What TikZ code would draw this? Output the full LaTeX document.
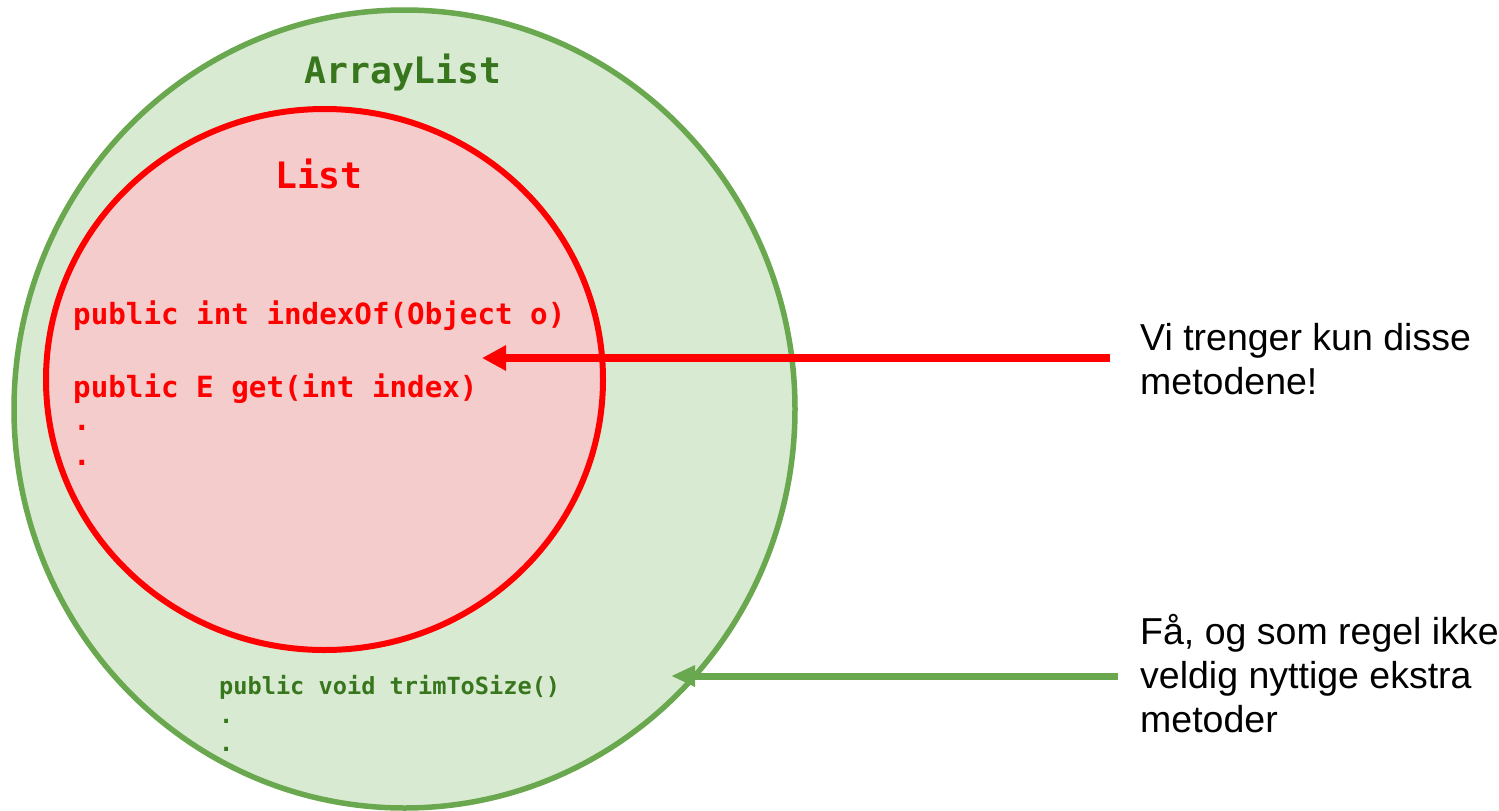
\documentclass[tikz,border=0pt]{standalone}
\usepackage{fontspec}
\setmainfont{Liberation Sans}
\newfontfamily\codefont{DejaVu Sans Mono}
\usetikzlibrary{arrows.meta}
\definecolor{outerfill}{HTML}{D9EAD3}
\definecolor{outerline}{HTML}{6AA84F}
\definecolor{outertext}{HTML}{38761D}
\definecolor{innerfill}{HTML}{F4CCCC}
\definecolor{innerline}{HTML}{FF0000}
\tikzset{
  code/.style={inner sep=0pt, anchor=base west, font=\codefont\bfseries\fontsize{29.2}{34}\selectfont, text=innerline},
  smallcode/.style={inner sep=0pt, anchor=base west, font=\codefont\bfseries\fontsize{23.6}{28}\selectfont, text=outertext},
  title/.style={inner sep=0pt, anchor=base, font=\codefont\bfseries\fontsize{36.4}{42}\selectfont},
  note/.style={inner sep=0pt, anchor=base west, align=left, font=\fontsize{37.5}{44}\selectfont, text=black},
}
\begin{document}
\begin{tikzpicture}[x=1pt,y=-1pt]
\useasboundingbox (0,0) rectangle (1499,811);

% outer set: ArrayList
\draw[outerline, fill=outerfill, line width=5.5pt] (404.5,409) ellipse [x radius=390.5pt, y radius=399pt];
% inner set: List
\draw[innerline, fill=innerfill, line width=6pt] (324.5,379.5) ellipse [x radius=278.5pt, y radius=270.5pt];

\node[title, text=outertext] (arraylist) at (403,83) {ArrayList};
\node[title, text=innerline] (list) at (319,188) {List};

\node[code] (indexof) at (73,324) {public int indexOf(Object o)};
\node[code] (get) at (73,397) {public E get(int index)};
\node[code] (dotA) at (73,430) {.};
\node[code] (dotB) at (73,465) {.};

\node[smallcode] (trim) at (219,694) {public void trimToSize()};
\node[smallcode] (dotC) at (219,723) {.};
\node[smallcode] (dotD) at (219,751) {.};

% the base anchor of a multi-line note sits on its last line
\node[note] (needed) at (1140,394) {Vi trenger kun disse\\metodene!};
\node[note] (extra) at (1140,732) {Få, og som regel ikke\\veldig nyttige ekstra\\metoder};

\coordinate (neededstart) at (1110,358);
\coordinate (neededend) at (482,358);
\coordinate (extrastart) at (1118,676);
\coordinate (extraend) at (671,676);

\draw[innerline, line width=8pt, -{Triangle[length=24pt,width=24pt]}] (neededstart) -- (neededend);
\draw[outerline, line width=7pt, -{Triangle[length=24pt,width=20pt]}] (extrastart) -- (extraend);
\end{tikzpicture}
\end{document}
